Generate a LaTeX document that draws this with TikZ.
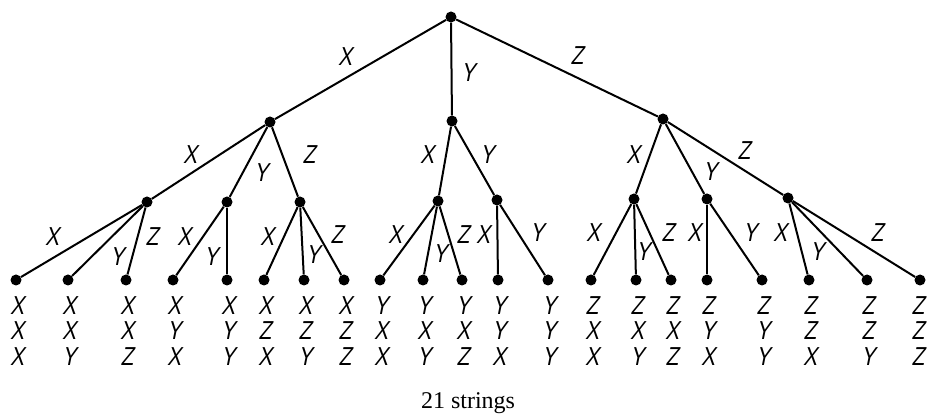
\documentclass[tikz,border=0pt]{standalone}
\usepackage{fontspec}
\setmainfont{Liberation Serif}
\newfontfamily\labfont[FakeStretch=0.8,FakeSlant=0.2]{Liberation Sans}
\def\threechars#1#2#3{#1\\#2\\#3}
\begin{document}
\begin{tikzpicture}[x=1pt,y=-1pt,
  dot/.style={circle,fill=black,inner sep=0pt,minimum size=11pt},
  edge/.style={line width=2pt},
  lab/.style={font=\labfont\fontsize{26}{26}\selectfont,inner sep=0pt},
  leafstr/.style={font=\labfont\fontsize{26}{25.5}\selectfont,inner sep=0pt,align=center,anchor=center}]
\useasboundingbox (0,0) rectangle (927,419);
% nodes
\node[dot] (r) at (451,17) {};
\node[dot] (a) at (270,122) {};
\node[dot] (b) at (452,121) {};
\node[dot] (c) at (663,119) {};
\node[dot] (aa) at (147,202) {};
\node[dot] (ab) at (227,202) {};
\node[dot] (ac) at (300,202) {};
\node[dot] (ba) at (438,201) {};
\node[dot] (bb) at (497,200) {};
\node[dot] (ca) at (634,199) {};
\node[dot] (cb) at (707,199) {};
\node[dot] (cc) at (788,198) {};
\foreach \n/\x/\sx/\s in {1/16/17/XXX,2/68/69/XXY,3/126/127/XXZ,4/173/174/XYX,5/227/228/XYY,6/264/265/XZX,7/304/305/XZY,8/344/345/XZZ,9/380/381/YXX,10/423/424/YXY,11/462/463/YXZ,12/498/499/YYX,13/548/549/YYY,14/591/592/ZXX,15/636/637/ZXY,16/671/672/ZXZ,17/707/708/ZYX,18/762/763/ZYY,19/809/810/ZZX,20/867/868/ZZY,21/920/918/ZZZ}{
  \node[dot] (l\n) at (\x,280) {};
  \node[leafstr] (s\n) at (\sx,331) {\expandafter\threechars\s};
}
% edges
\foreach \p/\q in {r/a,r/b,r/c,a/aa,a/ab,a/ac,b/ba,b/bb,c/ca,c/cb,c/cc,
  aa/l1,aa/l2,aa/l3,ab/l4,ab/l5,ac/l6,ac/l7,ac/l8,ba/l9,ba/l10,ba/l11,bb/l12,bb/l13,
  ca/l14,ca/l15,ca/l16,cb/l17,cb/l18,cc/l19,cc/l20,cc/l21}
  \draw[edge] (\p) -- (\q);
% edge labels
\node[lab] (e1) at (345,57) {X};
\node[lab] (e2) at (468,73) {Y};
\node[lab] (e3) at (577,56) {Z};
\node[lab] (e4) at (190,155) {X};
\node[lab] (e5) at (261,173) {Y};
\node[lab] (e6) at (309,155) {Z};
\node[lab] (e7) at (427,155) {X};
\node[lab] (e8) at (487,155) {Y};
\node[lab] (e9) at (633,155) {X};
\node[lab] (e10) at (710,172) {Y};
\node[lab] (e11) at (744,151) {Z};
\node[lab] (f1) at (52,237) {X};
\node[lab] (f2) at (117,257) {Y};
\node[lab] (f3) at (152,237) {Z};
\node[lab] (f4) at (184,237) {X};
\node[lab] (f5) at (211,257) {Y};
\node[lab] (f6) at (267,237) {X};
\node[lab] (f7) at (313,255) {Y};
\node[lab] (f8) at (337,235) {Z};
\node[lab] (f9) at (395,235) {X};
\node[lab] (f10) at (440,254) {Y};
\node[lab] (f11) at (463,235) {Z};
\node[lab] (f12) at (483,235) {X};
\node[lab] (f13) at (537,233) {Y};
\node[lab] (f14) at (593,233) {X};
\node[lab] (f15) at (643,252) {Y};
\node[lab] (f16) at (668,233) {Z};
\node[lab] (f17) at (694,233) {X};
\node[lab] (f18) at (750,233) {Y};
\node[lab] (f19) at (780,233) {X};
\node[lab] (f20) at (817,252) {Y};
\node[lab] (f21) at (877,233) {Z};
\node[font=\fontsize{24}{24}\selectfont,inner sep=0pt] (cap) at (468,403) {21 strings};
\end{tikzpicture}
\end{document}
